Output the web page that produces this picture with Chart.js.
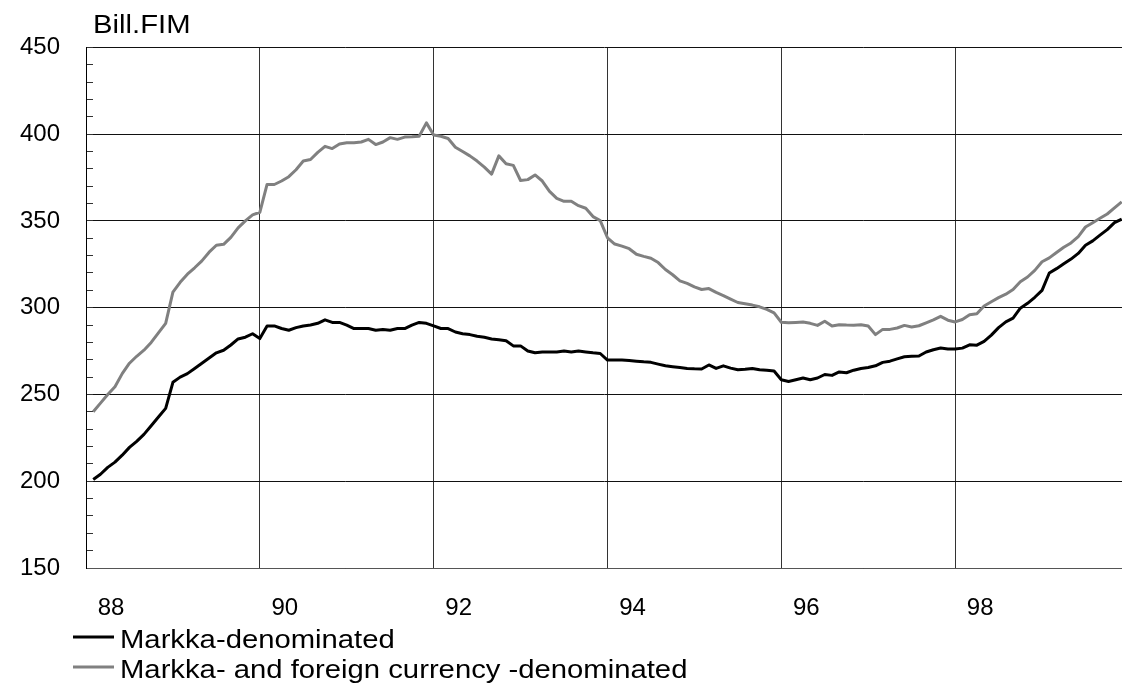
<!DOCTYPE html>
<html><head><meta charset="utf-8">
<script src="https://cdn.jsdelivr.net/npm/chart.js@4"></script>
<style>html,body{margin:0;padding:0;background:#fff;overflow:hidden}#wrap{width:1122px;height:686px;position:relative}</style>
</head><body><div id="wrap"><canvas id="c" width="1122" height="686"></canvas></div>
<script>
const unitLabel = 'Bill.FIM';
const seriesNames = ['Markka-denominated', 'Markka- and foreign currency -denominated'];
const firstYear = 1988;   // monthly observations, Jan 1988 .. Nov 1999
const markka = [
  201,204,208,211,215,219.5,223,227,232,237,242,257,
  260,262,265,268,271,274,275.5,278.5,282,283,285,282.2,
  289.4,289.5,288,287,288.5,289.5,290,291,293,291.5,291.5,290,
  288,288,288,287,287.5,287,288,288,290,291.5,291,289.5,
  288,288,286,285,284.5,283.5,283,282,281.5,281,278,278,
  275,274,274.5,274.5,274.5,275,274.5,275,274.5,274,273.6,269.8,
  269.8,269.8,269.6,269.2,268.8,268.5,267.5,266.5,266,265.5,265,264.8,
  264.7,267,265,266.5,265.2,264.2,264.5,265,264.2,264,263.5,258.5,
  257.5,258.5,259.5,258.5,259.5,261.5,261,263,262.5,264,265,265.5,
  266.5,268.5,269.2,270.5,271.7,272,272.2,274.5,275.8,276.8,276.2,276.2,
  276.7,278.6,278.4,280.6,284.2,288.5,291.8,294,299.7,302.5,306,310,
  320,322.5,325.3,328,331.3,336,338.5,341.8,345,349,351
];
const total = [
  240,245,250,254.5,262,268,272,275.5,280,285.5,291,309,
  314.6,319.3,323,327,332,336,336.5,340.5,346,350,353.5,355,
  371,371,373,375.5,379.5,384.5,385.4,389.5,393,391.7,394.3,395,
  395,395.5,397,394,395.5,398,397,398.3,398.5,398.8,406.5,399.5,
  398.8,397.5,392.5,390,387.5,384.5,381,377,387.5,383,382,373.3,
  373.8,376.5,373,367,363,361.3,361.3,358.8,357.3,352.5,350.2,340.3,
  336.7,335.5,334,330.8,329.6,328.5,326,322,319,315.5,314,312,
  310.5,311,308.8,307,305,303,302.3,301.5,300.5,299,297,291.6,
  291.3,291.5,291.7,291,289.8,292.2,289.5,290.2,290,289.9,290.2,289.4,
  284.5,287.5,287.5,288.3,289.8,288.9,289.6,291.3,293,295,292.8,291.8,
  293.2,295.9,296.5,301,303.4,305.8,307.8,310.5,315,317.7,321.5,326.5,
  328.7,331.8,334.8,337.3,341,346.5,349,351.5,354,357.5,361
];
const yearTicks = [1988, 1990, 1992, 1994, 1996, 1998];
const yearTickLabels = ['88', '90', '92', '94', '96', '98'];
const valueTickLabels = [150, 200, 250, 300, 350, 400, 450];

const toPoints = arr => arr.map((v, i) => ({ x: firstYear + (i + 1) / 12, y: v }));
const FONT = '"Liberation Sans", Arial, Helvetica, sans-serif';

function drawStretched(ctx, text, x, y, sx) {
  ctx.save();
  ctx.translate(x, y);
  ctx.scale(sx, 1);
  ctx.fillText(text, 0, 0);
  ctx.restore();
}

const textPlugin = {
  id: 'extraTexts',
  afterDraw(chart) {
    const ctx = chart.ctx, area = chart.chartArea;
    ctx.save();
    ctx.fillStyle = '#000';
    ctx.font = '25px ' + FONT;
    ctx.textAlign = 'left';
    ctx.textBaseline = 'alphabetic';
    drawStretched(ctx, unitLabel, area.left + 7, area.top - 14, 1.17);
    chart.data.datasets.forEach((ds, k) => {
      const y = area.bottom + 69 + k * 30;
      ctx.strokeStyle = ds.borderColor;
      ctx.lineWidth = 3;
      ctx.beginPath();
      ctx.moveTo(73, y);
      ctx.lineTo(114, y);
      ctx.stroke();
      ctx.fillStyle = '#000';
      drawStretched(ctx, ds.label, 120, y + 11, 1.17);
    });
    ctx.restore();
  }
};

new Chart(document.getElementById('c'), {
  type: 'line',
  data: {
    datasets: [
      { label: seriesNames[0], data: toPoints(markka), borderColor: '#000000', borderWidth: 3,
        pointRadius: 0, tension: 0, borderJoinStyle: 'round', fill: false },
      { label: seriesNames[1], data: toPoints(total), borderColor: '#808080', borderWidth: 3,
        pointRadius: 0, tension: 0, borderJoinStyle: 'round', fill: false }
    ]
  },
  options: {
    responsive: false,
    animation: false,
    devicePixelRatio: 1,
    layout: { padding: { left: 10, right: 0, top: 43, bottom: 60 } },
    plugins: { legend: { display: false }, tooltip: { enabled: false } },
    scales: {
      x: {
        type: 'linear',
        min: 1988,
        max: 1999.92,
        afterBuildTicks: s => { s.ticks = yearTicks.map(v => ({ value: v })); },
        afterFit: s => { s.height = 58; },
        ticks: {
          callback: v => yearTickLabels[yearTicks.indexOf(v)] ?? '',
          labelOffset: 25,
          padding: 26,
          maxRotation: 0,
          color: '#000',
          font: { family: FONT, size: 24 }
        },
        grid: { color: '#333', lineWidth: 1, drawTicks: false },
        border: { color: '#555', width: 1 }
      },
      y: {
        min: 150,
        max: 450,
        afterFit: s => { s.width = 76; },
        ticks: {
          stepSize: 10,
          autoSkip: false,
          callback: v => valueTickLabels.includes(v) ? String(v) : '',
          padding: 33,
          color: '#000',
          font: { family: FONT, size: 24 }
        },
        grid: {
          color: c => (c.tick && valueTickLabels.includes(c.tick.value)) ? '#111' : 'rgba(0,0,0,0)',
          tickColor: '#333',
          tickLength: -7,
          lineWidth: 1
        },
        border: { color: '#000', width: 1 }
      }
    }
  },
  plugins: [textPlugin]
});
</script>
</body></html>
